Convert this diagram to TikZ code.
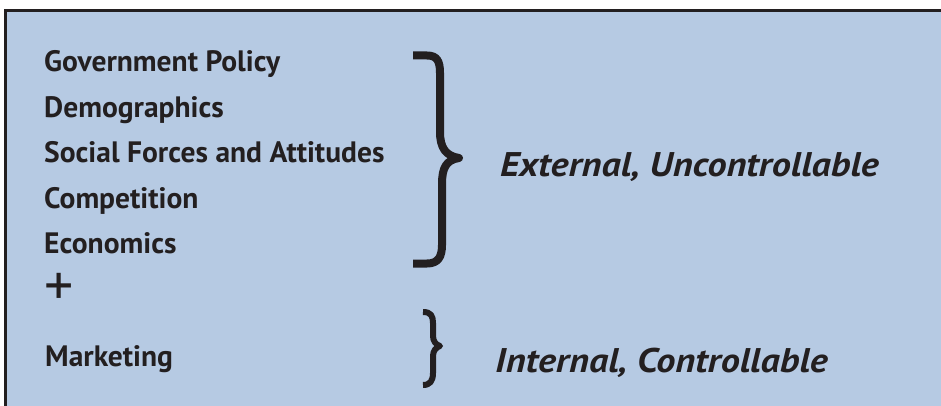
\documentclass[tikz,border=0pt]{standalone}
\usepackage{fontspec}
\setmainfont{PT Sans}
\newfontfamily\verdictfont[FakeStretch=1.12]{PT Sans}
\usepackage{tikz}
\usetikzlibrary{positioning}
\definecolor{panelblue}{HTML}{B6CAE3}
\definecolor{inkdark}{HTML}{231F20}

\tikzset{
  factor/.style={anchor=base west, inner sep=0pt, text=inkdark, font=\bfseries\fontsize{29.5}{34}\selectfont},
  verdict/.style={anchor=base west, inner sep=0pt, text=inkdark, font=\verdictfont\bfseries\itshape\fontsize{34.2}{40}\selectfont},
  bracestroke/.style={draw=inkdark, line join=round, line cap=butt}
}

\begin{document}
\begin{tikzpicture}[x=1pt, y=-1pt]
  \clip (0,0) rectangle (941,406);
  % Panel
  \draw[fill=panelblue, draw=inkdark, line width=3pt] (5.8,10.3) rectangle (960,430);

  % Environmental factors
  \node[factor] (gov) at (44,72) {Government Policy};
  \node[factor] (demo) at (44,118) {Demographics};
  \node[factor] (social) at (44,163) {Social Forces and Attitudes};
  \node[factor] (comp) at (44,208) {Competition};
  \node[factor] (econ) at (44,253) {Economics};
  \node[inner sep=0pt, text=inkdark, font=\fontsize{58}{58}\selectfont] (plus) at (59,289) {+};
  \node[factor] (mkt) at (45,366) {Marketing};

  % Braces
  \draw[bracestroke, line width=8pt] (413,55.5) -- (427,55.5)
    .. controls (437,55.5) and (440,61) .. (440,73) -- (440,132)
    .. controls (440,148) and (446,156) .. (459,158)
    .. controls (446,160) and (442,168) .. (442,184) -- (442,245)
    .. controls (442,257) and (438,263.5) .. (427,263.5) -- (413,263.5);
  \draw[bracestroke, line width=6pt] (423,312)
    .. controls (431,312) and (433,316) .. (433,323) -- (433,336)
    .. controls (433,341) and (436,345) .. (440,346)
    .. controls (436,347) and (433,351) .. (433,356) -- (433,373)
    .. controls (433,381) and (430,385) .. (423,385);

  % Verdicts
  \node[verdict] (ext) at (500,176) {External, Uncontrollable};
  \node[verdict] (int) at (495,372) {Internal, Controllable};
\end{tikzpicture}
\end{document}
